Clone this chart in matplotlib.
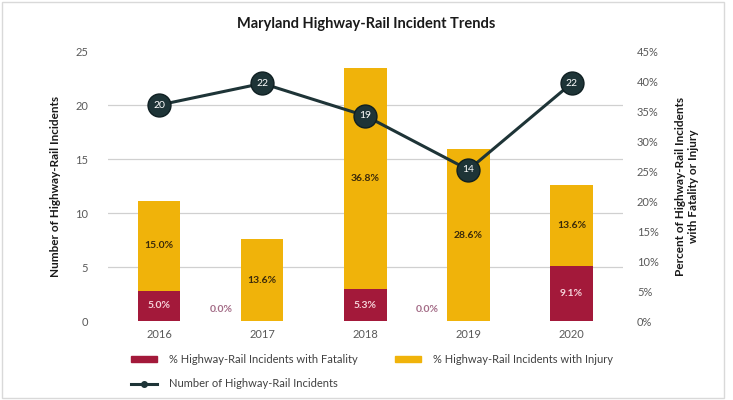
import matplotlib
matplotlib.use("Agg")
import matplotlib.pyplot as plt
import numpy as np
from matplotlib.lines import Line2D
from matplotlib.patches import Patch, Rectangle

years = ["2016", "2017", "2018", "2019", "2020"]
pct_fatality = [5.0, 0.0, 5.3, 0.0, 9.1]
pct_injury = [15.0, 13.6, 36.8, 28.6, 13.6]
incidents = [20, 22, 19, 14, 22]

plt.rcParams['font.family'] = ['Lato', 'DejaVu Sans']

RED = "#A3193A"
GOLD = "#F0B30A"
LINE = "#1E3437"
TICK = "#595959"

fig = plt.figure(figsize=(7.33, 4.0), dpi=100)
fig.patches.append(Rectangle((0.003, 0.005), 0.985, 0.99, transform=fig.transFigure,
                             fill=False, edgecolor="#D9D9D9", linewidth=1))
ax = fig.add_axes([0.147, 0.1975, 0.703, 0.675])
ax2 = ax.twinx()

x = np.arange(len(years))
w = 0.41

# bars on right (percent) axis
ax2.bar(x, pct_fatality, width=w, color=RED, zorder=3)
ax2.bar(x, pct_injury, width=w, bottom=pct_fatality, color=GOLD, zorder=3)
ax2.set_ylim(0, 45)
ax2.set_yticks(np.arange(0, 46, 5))
ax2.set_yticklabels([f"{v}%" for v in range(0, 46, 5)])
# gridlines aligned with left ticks
ax2.set_yticks(np.arange(0, 46, 9), minor=True)
ax2.yaxis.grid(True, which='minor', color="#D0D0D0", linewidth=0.9, zorder=0)
ax2.set_axisbelow(True)
ax2.tick_params(axis='y', which='both', length=0, labelsize=8, colors=TICK, pad=10)

for i in range(len(years)):
    f = pct_fatality[i]
    inj = pct_injury[i]
    if f > 0:
        ax2.text(x[i], f / 2, f"{f:.1f}%", ha='center', va='center', fontsize=7.5,
                 fontweight='bold', color="#F6D3DA", zorder=5)
    else:
        ax2.annotate(f"{f:.1f}%", (x[i] - 0.4, 0), xytext=(0, 5), textcoords='offset points',
                     ha='center', va='bottom', fontsize=7.5, fontweight='bold', color="#A36B86", zorder=5)
    ax2.text(x[i], f + inj / 2, f"{inj:.1f}%", ha='center', va='center', fontsize=7.5,
             fontweight='bold', color="#3B2A0A", zorder=5)

# line on left axis, above bars
ax.set_zorder(ax2.get_zorder() + 1)
ax.patch.set_visible(False)
ax.plot(x, incidents, color=LINE, linewidth=2.2, marker='o', markersize=16.5,
        markerfacecolor=LINE, markeredgecolor="#0F1F22", zorder=4)
for i, v in enumerate(incidents):
    ax.text(x[i], v, str(v), ha='center', va='center', fontsize=7.5, color='white', zorder=6)
ax.set_ylim(0, 25)
ax.set_yticks(np.arange(0, 26, 5))
ax.set_xlim(-0.5, len(years) - 0.5)
ax.set_xticks(x)
ax.set_xticklabels(years)
ax.tick_params(axis='both', length=0, labelsize=8, colors=TICK)
ax.tick_params(axis='y', pad=14)
ax.tick_params(axis='x', pad=6)

for a in (ax, ax2):
    for s in a.spines.values():
        s.set_visible(False)

ax.set_ylabel("Number of Highway-Rail Incidents", fontsize=8.5, fontweight='bold', color="#1A1A1A", labelpad=10)
ax2.set_ylabel("Percent of Highway-Rail Incidents\nwith Fatality or Injury", fontsize=8.5,
               fontweight='bold', color="#1A1A1A", rotation=90, labelpad=12)

fig.text(0.5, 0.94, "Maryland Highway-Rail Incident Trends", ha='center', va='center',
         fontsize=10.5, fontweight='bold', color="#1A1A1A")

handles = [Patch(color=RED),
           Line2D([0], [0], color=LINE, linewidth=2.2, marker='o', markersize=4),
           Patch(color=GOLD)]
labels = ["% Highway-Rail Incidents with Fatality",
          "Number of Highway-Rail Incidents",
          "% Highway-Rail Incidents with Injury"]
fig.legend(handles, labels, loc='upper left', bbox_to_anchor=(0.165, 0.14), ncol=2,
           frameon=False, fontsize=8, labelcolor="#404040", handlelength=2.3,
           handleheight=0.5, columnspacing=3.4, labelspacing=1.2, handletextpad=1.1)

fig.savefig("out.png", dpi=100)
